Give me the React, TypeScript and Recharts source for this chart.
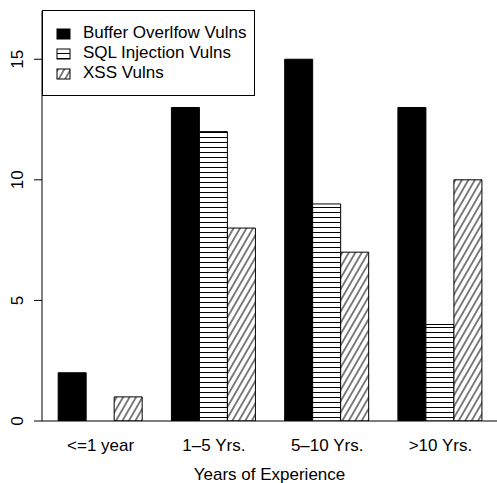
import React from "react";
import { BarChart, Bar, XAxis, YAxis, Legend, Label } from "recharts";

const categories = ["<=1 year", "1\u20135 Yrs.", "5\u201310 Yrs.", ">10 Yrs."];
const bufferVulns = [2, 13, 15, 13];
const sqlVulns = [0, 12, 9, 4];
const xssVulns = [1, 8, 7, 10];
const yTicks = [0, 5, 10, 15];

const seriesNames = ["Buffer Overlfow Vulns", "SQL Injection Vulns", "XSS Vulns"];
const seriesFills = ["#000", "url(#hlines)", "url(#dlines)"];

const data = categories.map((name, i) => ({
  name,
  buffer: bufferVulns[i],
  sql: sqlVulns[i],
  xss: xssVulns[i],
}));

const font = "'Liberation Sans', Arial, Helvetica, sans-serif";

const YTick = (props: any) => {
  const { x, y, payload } = props;
  const bx = x - 11;
  return (
    <text
      x={bx}
      y={y}
      transform={`rotate(-90, ${bx}, ${y})`}
      textAnchor="middle"
      fontSize={17}
      fontFamily={font}
      fill="#000"
    >
      {payload.value}
    </text>
  );
};

const XTick = (props: any) => {
  const { x, y, payload } = props;
  return (
    <text x={x} y={y + 30} textAnchor="middle" fontSize={17} fontFamily={font} fill="#000">
      {payload.value}
    </text>
  );
};

const LegendBox = () => (
  <div style={{ border: "1px solid #000", background: "#fff", width: 211, height: 84 }}>
    <svg width={211} height={84}>
      {seriesNames.map((name, i) => (
        <g key={name}>
          <rect x={14} y={18 + i * 20} width={13} height={10} fill={seriesFills[i]} stroke="#000" strokeWidth={1} />
          <text x={40} y={27 + i * 20} fontSize={17} fontFamily={font} fill="#000">
            {name}
          </text>
        </g>
      ))}
    </svg>
  </div>
);

export default function App() {
  return (
    <div style={{ position: "absolute", left: 0, top: 0, width: 497, height: 483, background: "#fff" }}>
      <BarChart
        width={497}
        height={483}
        data={data}
        margin={{ top: 11, right: 0, bottom: 0, left: 0 }}
        barCategoryGap="12.5%"
        barGap={0}
      >
        <defs>
          <pattern id="hlines" patternUnits="userSpaceOnUse" width={10} height={5}>
            <rect width={10} height={5} fill="#fff" />
            <line x1={0} y1={2.5} x2={10} y2={2.5} stroke="#000" strokeWidth={1} />
          </pattern>
          <pattern id="dlines" patternUnits="userSpaceOnUse" width={10} height={5.6} patternTransform="rotate(-60)">
            <rect width={10} height={5.6} fill="#fff" />
            <line x1={0} y1={2.8} x2={10} y2={2.8} stroke="#000" strokeWidth={1} />
          </pattern>
        </defs>
        <XAxis
          dataKey="name"
          height={62}
          tickSize={0}
          tickMargin={0}
          tickLine={false}
          tick={XTick}
          axisLine={{ stroke: "#000" }}
          padding={{ left: 2, right: 0 }}
          interval={0}
        >
          <Label
            value="Years of Experience"
            position="insideBottom"
            offset={3}
            fontSize={17}
            fontFamily={font}
            fill="#000"
          />
        </XAxis>
        <XAxis
          xAxisId="top"
          dataKey="name"
          orientation="top"
          height={0}
          tick={false}
          tickLine={false}
          axisLine={{ stroke: "#000" }}
        />
        <YAxis
          width={42}
          domain={[0, 17]}
          ticks={yTicks}
          tickSize={8}
          tickMargin={0}
          tick={YTick}
          tickLine={{ stroke: "#000" }}
          axisLine={{ stroke: "#000" }}
          allowDataOverflow
        />
        <Legend
          layout="horizontal"
          verticalAlign="middle"
          align="center"
          content={LegendBox}
          wrapperStyle={{ left: 42, top: 10, width: 213, height: 86 }}
        />
        <Bar dataKey="buffer" name={seriesNames[0]} fill={seriesFills[0]} stroke="#000" strokeWidth={1} isAnimationActive={false} />
        <Bar dataKey="sql" name={seriesNames[1]} fill={seriesFills[1]} stroke="#000" strokeWidth={1} isAnimationActive={false} />
        <Bar dataKey="xss" name={seriesNames[2]} fill={seriesFills[2]} stroke="#000" strokeWidth={1} isAnimationActive={false} />
      </BarChart>
    </div>
  );
}
